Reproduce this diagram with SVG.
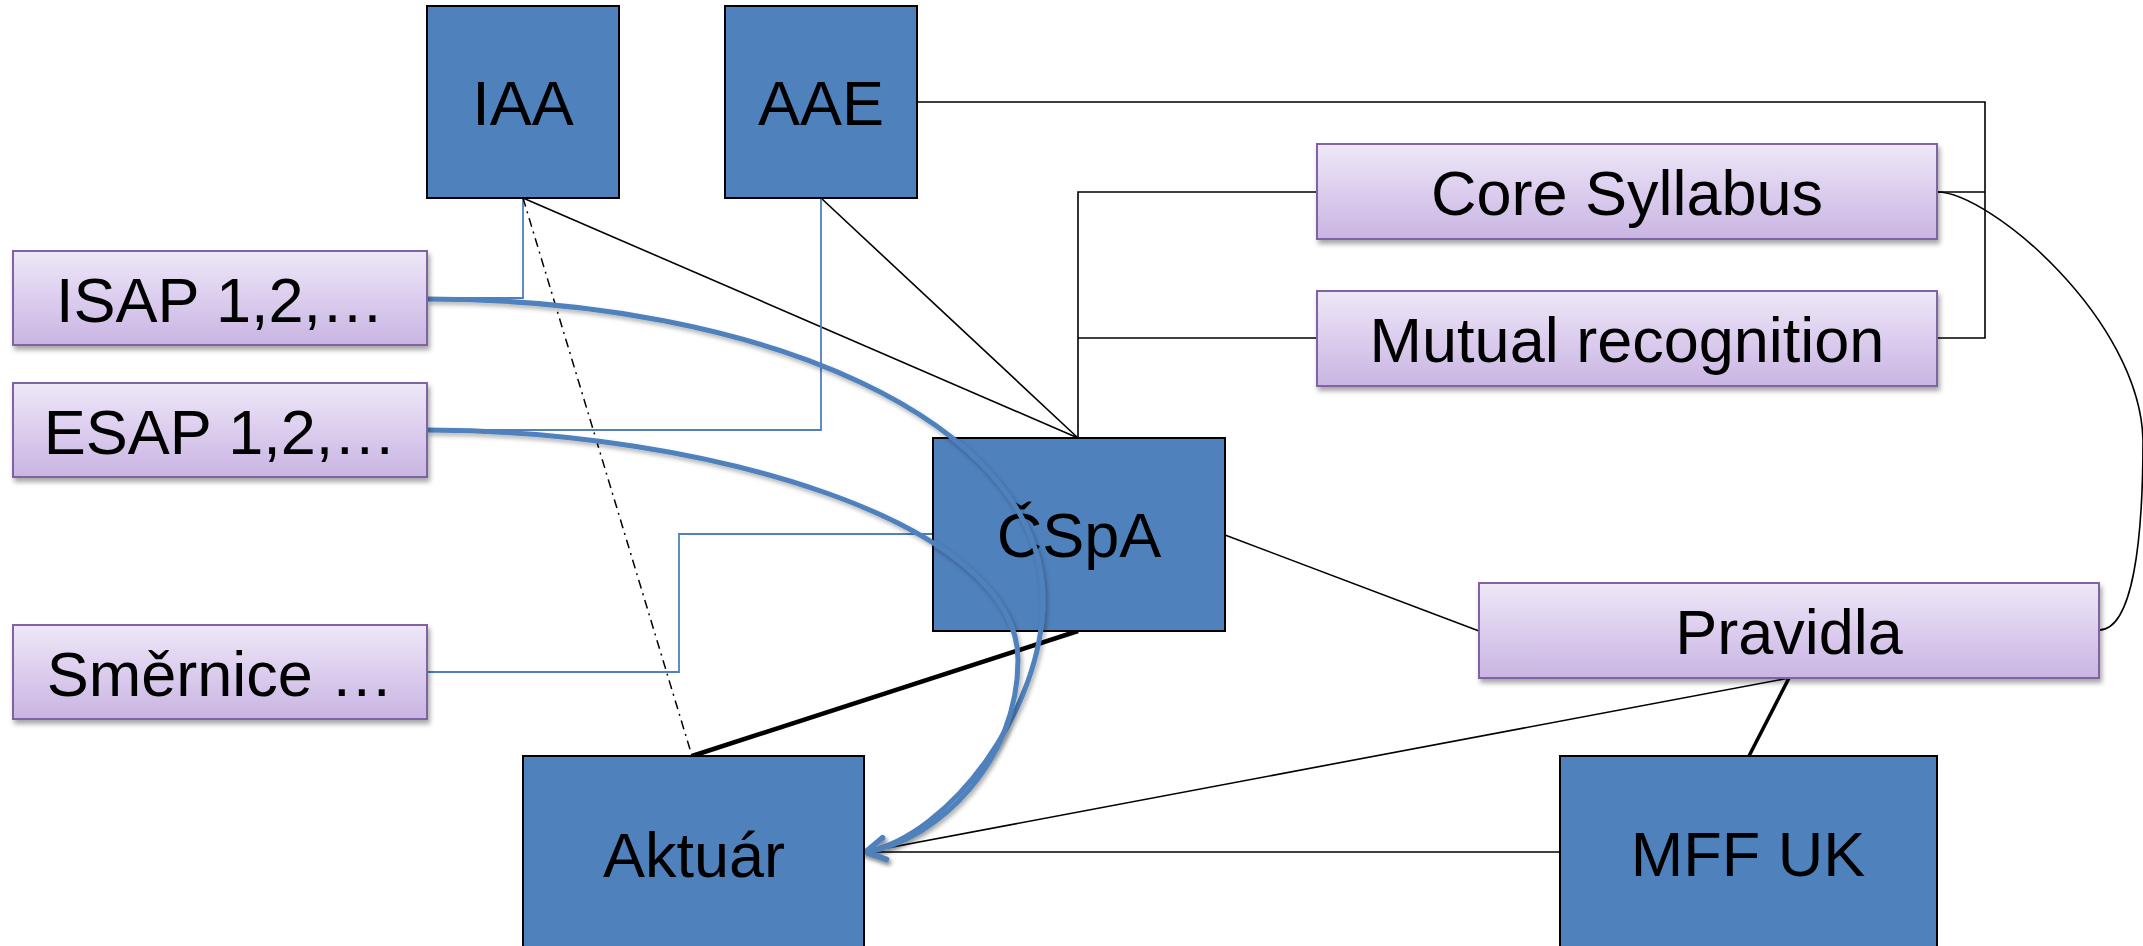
<svg xmlns="http://www.w3.org/2000/svg" width="2143" height="946" viewBox="0 0 2143 946">
  <defs>
    <linearGradient id="lav" x1="0" y1="0" x2="0" y2="1">
      <stop offset="0" stop-color="#eee8f7"/>
      <stop offset="0.5" stop-color="#dccdee"/>
      <stop offset="1" stop-color="#c9b5e2"/>
    </linearGradient>
    <filter id="sh" x="-10%" y="-10%" width="130%" height="140%">
      <feDropShadow dx="2" dy="4" stdDeviation="2.5" flood-color="#000" flood-opacity="0.35"/>
    </filter>
    <filter id="csh" x="-10%" y="-10%" width="130%" height="130%">
      <feDropShadow dx="2" dy="3" stdDeviation="2" flood-color="#000" flood-opacity="0.3"/>
    </filter>
    <marker id="chev" viewBox="0 0 30 30" refX="21" refY="15" markerWidth="30" markerHeight="30" markerUnits="userSpaceOnUse" orient="auto" overflow="visible">
      <path d="M2,4 L22,15 L2,26" fill="none" stroke="#4f81bd" stroke-width="5" stroke-linejoin="miter" stroke-linecap="round"/>
    </marker>
  </defs>
  <style>
    .blue rect { fill: #4f81bd; stroke: #000; stroke-width: 2; }
    .lav rect { fill: url(#lav); stroke: #8064a2; stroke-width: 2; filter: url(#sh); }
    text { font-family: "Liberation Sans", Arial, sans-serif; font-size: 63px; fill: #000; text-anchor: middle; }
    .k { fill: none; stroke: #000; stroke-width: 1.6; }
    .kthick { fill: none; stroke: #000; stroke-width: 4.5; }
    .kmed { fill: none; stroke: #000; stroke-width: 3.5; }
    .dd { fill: none; stroke: #000; stroke-width: 1.5; stroke-dasharray: 9 5 2 5; }
    .bt { fill: none; stroke: #4f81bd; stroke-width: 1.8; }
    .bc { fill: none; stroke: #4f81bd; stroke-width: 5; filter: url(#csh); }
  </style>
  <rect width="2143" height="946" fill="#fff"/>

  <g id="connectors">
    <polyline class="k" points="917,102 1985,102 1985,338 1937,338"/>
    <line class="k" x1="1937" y1="192" x2="1985" y2="192"/>
    <polyline class="k" points="1317,192 1078,192 1078,438"/>
    <line class="k" x1="1317" y1="338" x2="1078" y2="338"/>
    <line class="k" x1="523" y1="198" x2="1078" y2="438"/>
    <line class="k" x1="821" y1="198" x2="1078" y2="438"/>
    <polyline class="bt" points="523,198 523,298 427,298"/>
    <polyline class="bt" points="821,198 821,430 427,430"/>
    <polyline class="bt" points="427,672 679,672 679,534 933,534"/>
    <line class="dd" x1="523" y1="198" x2="692" y2="756"/>
    <line class="kthick" x1="692" y1="756" x2="1078" y2="631"/>
    <line class="k" x1="1225" y1="535" x2="1479" y2="631"/>
    <line class="kmed" x1="1789" y1="678" x2="1749" y2="756"/>
    <line class="k" x1="1789" y1="678" x2="866" y2="852"/>
    <line class="k" x1="1560" y1="852" x2="864" y2="852"/>
    <path class="k" d="M1937,192 C1990,192 2140,320 2143,440 C2143,540 2133,630 2099,630"/>
  </g>

  <g id="node-csp" class="blue">
    <rect x="933" y="438" width="292" height="193"/>
    <text x="1079" y="557">ČSpA</text>
  </g>

  <g id="blue-arrows">
    <path class="bc" d="M427,299 C760,299 1043,420 1043,600 C1043,710 950,835 866,852" marker-end="url(#chev)"/>
    <path class="bc" d="M427,430 C700,430 1018,520 1018,660 C1018,760 940,840 866,852" marker-end="url(#chev)"/>
  </g>

  <g id="node-iaa" class="blue">
    <rect x="427" y="6" width="192" height="192"/>
    <text x="523" y="125">IAA</text>
  </g>
  <g id="node-aae" class="blue">
    <rect x="725" y="6" width="192" height="192"/>
    <text x="821" y="125">AAE</text>
  </g>
  <g id="node-aktuar" class="blue">
    <rect x="523" y="756" width="341" height="196"/>
    <text x="694" y="877">Aktuár</text>
  </g>
  <g id="node-mff" class="blue">
    <rect x="1560" y="756" width="377" height="196"/>
    <text x="1748" y="876">MFF UK</text>
  </g>

  <g id="node-isap" class="lav">
    <rect x="13" y="251" width="414" height="94"/>
    <text x="220" y="322">ISAP 1,2,…</text>
  </g>
  <g id="node-esap" class="lav">
    <rect x="13" y="383" width="414" height="94"/>
    <text x="220" y="454">ESAP 1,2,…</text>
  </g>
  <g id="node-smernice" class="lav">
    <rect x="13" y="625" width="414" height="94"/>
    <text x="220" y="696">Směrnice …</text>
  </g>
  <g id="node-core" class="lav">
    <rect x="1317" y="144" width="620" height="95"/>
    <text x="1627" y="215">Core Syllabus</text>
  </g>
  <g id="node-mutual" class="lav">
    <rect x="1317" y="291" width="620" height="95"/>
    <text x="1627" y="362">Mutual recognition</text>
  </g>
  <g id="node-pravidla" class="lav">
    <rect x="1479" y="583" width="620" height="95"/>
    <text x="1789" y="654">Pravidla</text>
  </g>
</svg>
